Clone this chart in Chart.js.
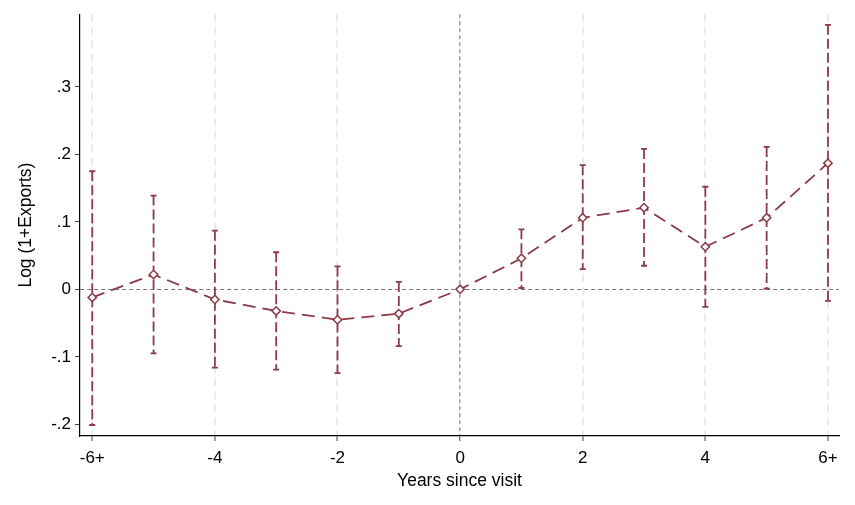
<!DOCTYPE html>
<html>
<head>
<meta charset="utf-8">
<script src="https://cdn.jsdelivr.net/npm/chart.js@4/dist/chart.umd.min.js"></script>
<style>
  body { margin: 0; background: #fff; }
</style>
</head>
<body>
<canvas id="myChart" width="855" height="505"></canvas>
<script>
// event-study estimates
var years = [-6, -5, -4, -3, -2, -1, 0, 1, 2, 3, 4, 5, 6];
var coef = [-0.012, 0.022, -0.015, -0.032, -0.045, -0.036, 0, 0.046, 0.106, 0.121, 0.063, 0.106, 0.187];
var ciHigh = [0.175, 0.139, 0.087, 0.055, 0.034, 0.011, null, 0.089, 0.184, 0.208, 0.152, 0.211, 0.392];
var ciLow = [-0.201, -0.095, -0.116, -0.119, -0.124, -0.084, null, 0.002, 0.030, 0.035, -0.026, 0.001, -0.017];
var xTicks = [-6, -4, -2, 0, 2, 4, 6];
var yTicks = [-0.2, -0.1, 0, 0.1, 0.2, 0.3];

var red = '#8c3a45';

function renderChart() {
  var ctx = document.getElementById('myChart').getContext('2d');

  var datasets = [{
    label: 'coef',
    data: years.map((y, i) => ({x: y, y: coef[i]})),
    borderColor: red,
    borderWidth: 1.8,
    borderDash: [13, 7],
    pointStyle: 'rectRot',
    pointRadius: 4.2,
    pointBorderWidth: 1.5,
    pointBorderColor: red,
    pointBackgroundColor: '#fff',
    tension: 0,
    order: 0
  }];

  // one small dataset per confidence interval
  years.forEach((y, i) => {
    if (ciHigh[i] === null) return;
    datasets.push({
      label: 'ci' + y,
      data: [{x: y, y: ciHigh[i]}, {x: y, y: ciLow[i]}],
      borderColor: red,
      borderWidth: 1.8,
      borderDash: [10, 4],
      pointStyle: 'line',
      pointRadius: 3,
      pointBorderWidth: 1.8,
      pointBorderColor: red,
      order: 1
    });
  });

  var font = {family: '"Liberation Sans", Arial, sans-serif', size: 17};

  new Chart(ctx, {
    type: 'line',
    data: {datasets: datasets},
    options: {
      responsive: false,
      animation: false,
      devicePixelRatio: 1,
      layout: {padding: {left: 0, right: 16, top: 14, bottom: 0}},
      plugins: {legend: {display: false}, tooltip: {enabled: false}},
      scales: {
        x: {
          type: 'linear',
          min: -6.2,
          max: 6.18,
          afterBuildTicks: s => { s.ticks = xTicks.map(v => ({value: v})); },
          afterFit: s => { s.height = 69; },
          ticks: {
            color: '#000',
            font: font,
            padding: 7,
            callback: v => (v === -6 ? '-6+' : v === 6 ? '6+' : String(v))
          },
          grid: {
            color: c => (c.tick && c.tick.value === 0 ? '#a0a0a0' : '#ebebeb'),
            lineWidth: c => (c.tick && c.tick.value === 0 ? 1.5 : 2),
            tickColor: '#444',
            tickLength: 5,
            tickWidth: 1
          },
          border: {color: '#000', width: 1.2, dash: c => (c.tick && c.tick.value === 0 ? [4, 3] : [8, 5])},
          title: {
            display: true,
            text: 'Years since visit',
            color: '#000',
            font: {family: font.family, size: 17.5},
            padding: {top: 0, bottom: 13}
          }
        },
        y: {
          type: 'linear',
          min: -0.2173,
          max: 0.4077,
          afterBuildTicks: s => { s.ticks = yTicks.map(v => ({value: v})); },
          afterFit: s => { s.width = 80; },
          ticks: {
            color: '#000',
            font: font,
            padding: 4,
            callback: v => String(Math.round(v * 10) / 10).replace('0.', '.')
          },
          grid: {
            color: c => (c.tick && c.tick.value === 0 ? '#777' : 'rgba(0,0,0,0)'),
            lineWidth: 1,
            tickColor: '#444',
            tickLength: 5,
            tickWidth: 1
          },
          border: {color: '#000', width: 1.2, dash: [4, 3]},
          title: {
            display: true,
            text: 'Log (1+Exports)',
            color: '#000',
            font: {family: font.family, size: 17.5},
            padding: {top: 16, bottom: 0}
          }
        }
      }
    }
  });
}

renderChart();
</script>
</body>
</html>
